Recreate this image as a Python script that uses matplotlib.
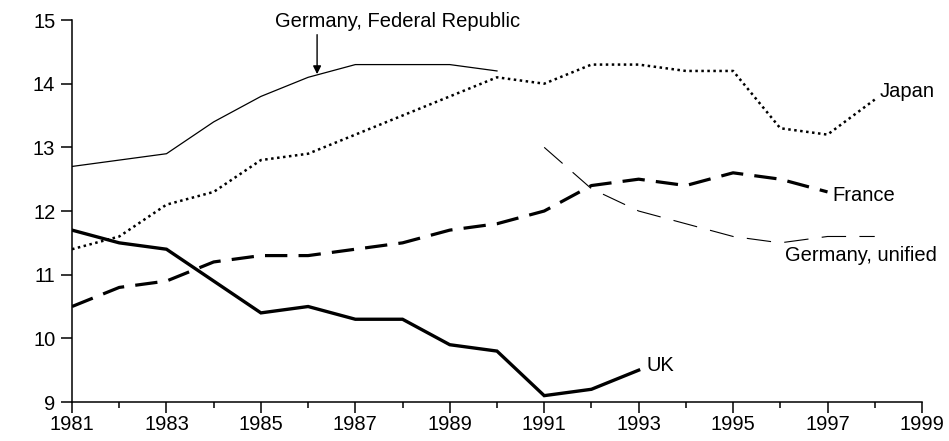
import numpy as np
import matplotlib.pyplot as plt

plt.rcParams['font.family'] = ['Liberation Sans', 'DejaVu Sans']

# Germany, Federal Republic 1981-1990
germany_fr_years = np.arange(1981, 1991)
germany_fr = [12.7, 12.8, 12.9, 13.4, 13.8, 14.1, 14.3, 14.3, 14.3, 14.2]

# Japan 1981-1998
japan_years = np.arange(1981, 1999)
japan = [11.4, 11.6, 12.1, 12.3, 12.8, 12.9, 13.2, 13.5, 13.8, 14.1,
         14.0, 14.3, 14.3, 14.2, 14.2, 13.3, 13.2, 13.75]

# France 1981-1997
france_years = np.arange(1981, 1998)
france = [10.5, 10.8, 10.9, 11.2, 11.3, 11.3, 11.4, 11.5, 11.7, 11.8,
          12.0, 12.4, 12.5, 12.4, 12.6, 12.5, 12.3]

# Germany, unified 1991-1998
germany_u_years = np.arange(1991, 1999)
germany_u = [13.0, 12.35, 12.0, 11.8, 11.6, 11.5, 11.6, 11.6]

# UK 1981-1993
uk_years = np.arange(1981, 1994)
uk = [11.7, 11.5, 11.4, 10.9, 10.4, 10.5, 10.3, 10.3, 9.9, 9.8, 9.1, 9.2, 9.5]

fs = 14.5

fig = plt.figure(figsize=(9.49, 4.41), dpi=100)
ax = fig.add_axes([0.0759, 0.0884, 0.8956, 0.8662])

ax.plot(germany_fr_years, germany_fr, color='black', lw=0.9)
ax.plot(japan_years, japan, color='black', lw=1.8, linestyle=(0, (1, 1.4)))
ax.plot(france_years, france, color='black', lw=2.3, linestyle=(0, (7, 3.5)))
ax.plot(germany_u_years, germany_u, color='black', lw=0.8, linestyle=(0, (22, 12)))
ax.plot(uk_years, uk, color='black', lw=2.4, solid_joinstyle='miter')

# labels
ax.text(1987.9, 14.97, 'Germany, Federal Republic', fontsize=fs, ha='center', va='center')
ax.annotate('', xy=(1986.19, 14.15), xytext=(1986.19, 14.77),
            arrowprops=dict(arrowstyle='-|>', color='black', lw=1.0,
                            mutation_scale=12, shrinkA=0, shrinkB=0))
ax.text(1998.1, 13.87, 'Japan', fontsize=fs, va='center', ha='left')
ax.text(1997.1, 12.25, 'France', fontsize=fs, va='center', ha='left')
ax.text(1996.1, 11.3, 'Germany, unified', fontsize=fs, va='center', ha='left')
ax.text(1993.16, 9.58, 'UK', fontsize=fs, va='center', ha='left')

ax.set_xlim(1981, 1999)
ax.set_ylim(9, 15)
ax.set_xticks(np.arange(1981, 2000, 2))
ax.set_xticks(np.arange(1982, 1999, 2), minor=True)
ax.set_yticks(np.arange(9, 16, 1))

for s in ['top', 'right']:
    ax.spines[s].set_visible(False)
for s in ['left', 'bottom']:
    ax.spines[s].set_linewidth(1.1)
    ax.spines[s].set_color('black')

ax.tick_params(axis='x', which='major', direction='out', length=8, width=1.1,
               labelsize=fs, pad=1)
ax.tick_params(axis='x', which='minor', direction='out', length=4.5, width=1.1)
ax.tick_params(axis='y', direction='out', length=8, width=1.1, labelsize=fs, pad=4)
ax.patch.set_visible(False)

fig.savefig('out.png', dpi=100)
